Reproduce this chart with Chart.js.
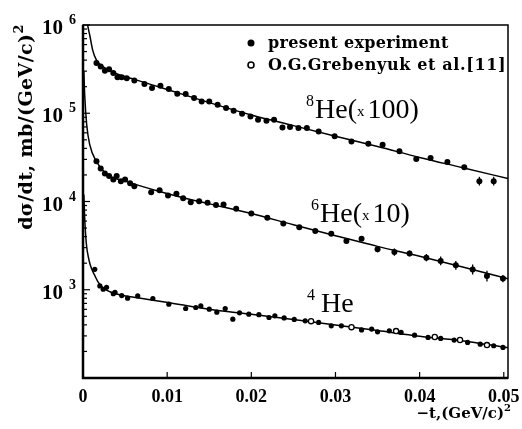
<!DOCTYPE html>
<html>
<head>
<meta charset="utf-8">
<script src="https://cdn.jsdelivr.net/npm/chart.js@4.4.0/dist/chart.umd.min.js"></script>
<style>
  html, body { margin: 0; padding: 0; background: #fff; }
</style>
</head>
<body>
<canvas id="c" width="522" height="429"></canvas>
<script>
// -t in (GeV/c)^2, dsigma/dt in mb/(GeV/c)^2
const he8T = [0.0016,0.0021,0.0026,0.0031,0.0036,0.0041,0.0046,0.0052,0.0061,0.0073,0.0082,0.0092,0.0102,0.0112,0.0122,0.0132,0.0141,0.0150,0.0160,0.0170,0.0179,0.0189,0.0199,0.0208,0.0218,0.0227,0.0237,0.0246,0.0256,0.0266,0.0280,0.0299,0.0319,0.0339,0.0356,0.0376,0.0396,0.0413,0.0433,0.0453,0.0471,0.0488];
const he8Y = [3.72e5,3.38e5,3.04e5,3.16e5,2.85e5,2.56e5,2.56e5,2.50e5,2.35e5,2.15e5,1.93e5,2.05e5,1.88e5,1.66e5,1.65e5,1.485e5,1.36e5,1.36e5,1.25e5,1.145e5,1.067e5,9.87e4,9.20e4,8.45e4,8.23e4,8.45e4,6.91e4,6.98e4,6.80e4,6.80e4,6.23e4,5.47e4,4.80e4,4.52e4,4.41e4,3.70e4,3.04e4,3.12e4,2.81e4,2.44e4,1.70e4,1.70e4];
const he8Err = [0,0,0,0,0,0,0,0,0,0,0,0,0,0,0,0,0,0,0,0,0,0,0,0,0,0,0,0,0,0,0,0,0,0,0,0,0,0,0,0.06,0.12,0.12];

const he6T = [0.0016,0.0021,0.0026,0.0031,0.0036,0.0040,0.0045,0.0050,0.0056,0.0061,0.0081,0.0091,0.0101,0.0111,0.0119,0.0128,0.0138,0.0148,0.0158,0.0167,0.0182,0.0200,0.0219,0.0238,0.0257,0.0276,0.0295,0.0313,0.0331,0.0350,0.0370,0.0388,0.0408,0.0425,0.0443,0.0463,0.0480,0.0499];
const he6Y = [2.85e4,2.36e4,2.07e4,1.95e4,1.77e4,1.94e4,1.70e4,1.77e4,1.61e4,1.49e4,1.274e4,1.342e4,1.169e4,1.225e4,1.087e4,9.82e3,1.008e4,9.67e3,9.13e3,9.25e3,8.27e3,7.32e3,6.54e3,5.64e3,5.11e3,4.62e3,4.32e3,3.56e3,3.79e3,2.87e3,2.67e3,2.58e3,2.31e3,2.12e3,1.89e3,1.70e3,1.43e3,1.34e3];
const he6Err = [0,0,0,0,0,0,0,0,0,0,0,0,0,0,0,0,0,0,0,0,0,0,0,0,0,0,0,0,0.06,0.08,0.1,0.08,0.1,0.12,0.12,0.14,0.15,0.1];

const he4T = [0.0014,0.0020,0.0024,0.0028,0.0036,0.0038,0.0046,0.0053,0.0065,0.0083,0.0102,0.0122,0.0134,0.0140,0.0150,0.0159,0.0169,0.0178,0.0186,0.0197,0.0209,0.0221,0.0228,0.0239,0.0251,0.0264,0.0280,0.0295,0.0307,0.0331,0.0343,0.0350,0.0364,0.0378,0.0394,0.0410,0.0425,0.0441,0.0457,0.0472,0.0488,0.0499];
const he4Y = [1705,1104,1013,1067,901,937,860,802,851,796,686,613,629,656,602,557,613,464,547,529,522,485,506,480,461,444,426,390,390,351,358,334,342,328,306,288,281,269,253,242,232,222];

// O.G.Grebenyuk et al. (open circles)
const grebT = [0.0271,0.0319,0.0372,0.0418,0.0448,0.0480];
const grebY = [441,377,340,291,269,236];

// fitted curves
const fit8T = [0.0004,0.00055,0.0008,0.00115,0.0016,0.0026,0.004,0.0063,0.010,0.015,0.020,0.025,0.030,0.035,0.040,0.045,0.0505];
const fit8Y = [1.3e6,1.0e6,7.7e5,5.2e5,4.0e5,3.27e5,2.8e5,2.39e5,1.86e5,1.32e5,9.55e4,7.24e4,5.5e4,4.2e4,3.16e4,2.43e4,1.82e4];
const fit6T = [0.0001,0.0002,0.00044,0.0008,0.0016,0.0028,0.0052,0.0091,0.013,0.015,0.020,0.025,0.030,0.035,0.040,0.045,0.0505];
const fit6Y = [3.0e5,1.62e5,7.4e4,4.41e4,2.83e4,2.05e4,1.68e4,1.3e4,1.04e4,9.4e3,7.3e3,5.45e3,4.1e3,3.1e3,2.4e3,1.82e3,1.33e3];
const fit4T = [0.0001,0.0002,0.0004,0.0007,0.001,0.0014,0.0018,0.0024,0.0032,0.0045,0.0065,0.0099,0.015,0.020,0.025,0.030,0.035,0.040,0.045,0.0505];
const fit4Y = [1.2e4,6.5e3,3.3e3,2.2e3,1.75e3,1.45e3,1.22e3,1.05e3,950,870,810,722,600,528,460,398,345,298,265,220];

const xTicks = [0, 0.01, 0.02, 0.03, 0.04, 0.05];
const yDecades = [2, 3, 4, 5, 6];

const pt = (ts, ys) => ts.map((t, i) => ({ x: t, y: ys[i] }));
const BOLD = px => `bold ${px}px "DejaVu Serif"`;
const NUM = px => `bold ${px}px "Liberation Serif"`;
const ROMAN = px => `${px}px "Liberation Serif"`;

function drawRuns(ctx, runs, x, y, align, spacing) {
  ctx.letterSpacing = (spacing || 0) + 'px';
  let w = 0;
  runs.forEach(r => { ctx.font = r.f; w += ctx.measureText(r.t).width + (r.gap || 0); });
  let cx = align === 'right' ? x - w : align === 'center' ? x - w / 2 : x;
  ctx.textAlign = 'left';
  ctx.textBaseline = 'alphabetic';
  runs.forEach(r => {
    ctx.font = r.f;
    ctx.fillText(r.t, cx, y + (r.dy || 0));
    cx += ctx.measureText(r.t).width + (r.gap || 0);
  });
  ctx.letterSpacing = '0px';
}

const decor = {
  id: 'decor',
  afterDatasetsDraw(chart) {
    const { ctx, chartArea: a, scales: { x, y } } = chart;
    ctx.save();
    ctx.strokeStyle = '#000';
    ctx.fillStyle = '#000';

    // error bars
    ctx.lineWidth = 1.3;
    [[he8T, he8Y, he8Err], [he6T, he6Y, he6Err]].forEach(([ts, ys, es]) => {
      ts.forEach((t, i) => {
        if (!es[i]) return;
        const px = x.getPixelForValue(t);
        ctx.beginPath();
        ctx.moveTo(px, y.getPixelForValue(ys[i] * (1 + es[i])));
        ctx.lineTo(px, y.getPixelForValue(ys[i] / (1 + es[i])));
        ctx.stroke();
      });
    });

    // frame
    ctx.lineWidth = 1.5;
    ctx.strokeRect(a.left, a.top, a.right - a.left, a.bottom - a.top);
    ctx.lineWidth = 2.5;
    ctx.beginPath();
    ctx.moveTo(a.left, a.top);
    ctx.lineTo(a.left, a.bottom);
    ctx.lineTo(a.right, a.bottom);
    ctx.stroke();

    // y ticks (inside)
    ctx.lineWidth = 1.2;
    yDecades.forEach(e => {
      const v = Math.pow(10, e);
      const py = y.getPixelForValue(v);
      ctx.beginPath();
      ctx.moveTo(a.left, py); ctx.lineTo(a.left + 7, py);
      ctx.stroke();
      if (e < 6) {
        for (let m = 2; m <= 9; m++) {
          const q = y.getPixelForValue(m * v);
          ctx.beginPath();
          ctx.moveTo(a.left, q); ctx.lineTo(a.left + 4, q);
          ctx.stroke();
        }
      }
      if (e >= 3) {
        drawRuns(ctx, [{ t: '10', f: NUM(21), gap: 6 }, { t: String(e), f: NUM(14), dy: -10 }], a.left - 7, py + 9, 'right');
      }
    });

    // x ticks and labels
    xTicks.forEach(t => {
      const px = x.getPixelForValue(t);
      if (t > 0) {
        ctx.beginPath();
        ctx.moveTo(px, a.bottom); ctx.lineTo(px, a.bottom - 6);
        ctx.stroke();
      }
      ctx.font = NUM(18);
      ctx.textAlign = 'center';
      ctx.textBaseline = 'alphabetic';
      ctx.fillText(t === 0 ? '0' : t.toFixed(2), px, a.bottom + 24);
    });

    // axis titles
    drawRuns(ctx, [{ t: '\u2212t,(GeV/c)', f: BOLD(15) }, { t: '2', f: BOLD(10), dy: -7 }], a.right + 3, a.bottom + 40, 'right');
    ctx.save();
    ctx.translate(32, 127);
    ctx.rotate(-Math.PI / 2);
    drawRuns(ctx, [{ t: 'd\u03C3/dt, mb/(GeV/c)', f: BOLD(19) }, { t: '2', f: BOLD(13), dy: -9 }], 0, 0, 'center', 0.4);
    ctx.restore();

    // legend
    ctx.beginPath();
    ctx.arc(251, 43, 3.5, 0, Math.PI * 2);
    ctx.fill();
    ctx.beginPath();
    ctx.lineWidth = 1.6;
    ctx.arc(251, 65, 3, 0, Math.PI * 2);
    ctx.stroke();
    drawRuns(ctx, [{ t: 'present experiment', f: BOLD(16) }], 268, 48, 'left', 0.3);
    drawRuns(ctx, [{ t: 'O.G.Grebenyuk et al.[11]', f: BOLD(16) }], 268, 70, 'left', 0.65);

    // curve labels
    drawRuns(ctx, [{ t: '8', f: ROMAN(16), dy: -12, gap: 1 }, { t: 'He(', f: ROMAN(28) }, { t: 'x', f: ROMAN(15), dy: -2, gap: 3 }, { t: '100)', f: ROMAN(28) }], 306, 118, 'left');
    drawRuns(ctx, [{ t: '6', f: ROMAN(16), dy: -12, gap: 1 }, { t: 'He(', f: ROMAN(28) }, { t: 'x', f: ROMAN(15), dy: -2, gap: 3 }, { t: '10)', f: ROMAN(28) }], 311, 222, 'left');
    drawRuns(ctx, [{ t: '4', f: ROMAN(16), dy: -12, gap: 6 }, { t: 'He', f: ROMAN(28) }], 307, 312, 'left');

    ctx.restore();
  }
};

const dot = (data, r) => ({ data, pointRadius: r, pointBackgroundColor: '#000', pointBorderWidth: 0, showLine: false });
const curve = data => ({ data, showLine: true, pointRadius: 0, borderColor: '#000', borderWidth: 1.5, cubicInterpolationMode: 'monotone' });

new Chart(document.getElementById('c'), {
  type: 'scatter',
  data: {
    datasets: [
      dot(pt(he8T, he8Y), 3),
      dot(pt(he6T, he6Y), 3),
      dot(pt(he4T, he4Y), 2.6),
      { data: pt(grebT, grebY), pointRadius: 2.6, pointBackgroundColor: '#fff', pointBorderColor: '#000', pointBorderWidth: 1.3, showLine: false },
      curve(pt(fit8T, fit8Y)),
      curve(pt(fit6T, fit6Y)),
      curve(pt(fit4T, fit4Y)),
    ]
  },
  options: {
    responsive: false,
    animation: false,
    devicePixelRatio: 1,
    layout: { padding: { left: 83, top: 25, right: 14, bottom: 51 } },
    plugins: { legend: { display: false }, tooltip: { enabled: false } },
    scales: {
      x: { type: 'linear', min: 0, max: 0.0505, display: false },
      y: { type: 'logarithmic', min: 100, max: 1e6, display: false }
    }
  },
  plugins: [decor]
});
</script>
</body>
</html>
